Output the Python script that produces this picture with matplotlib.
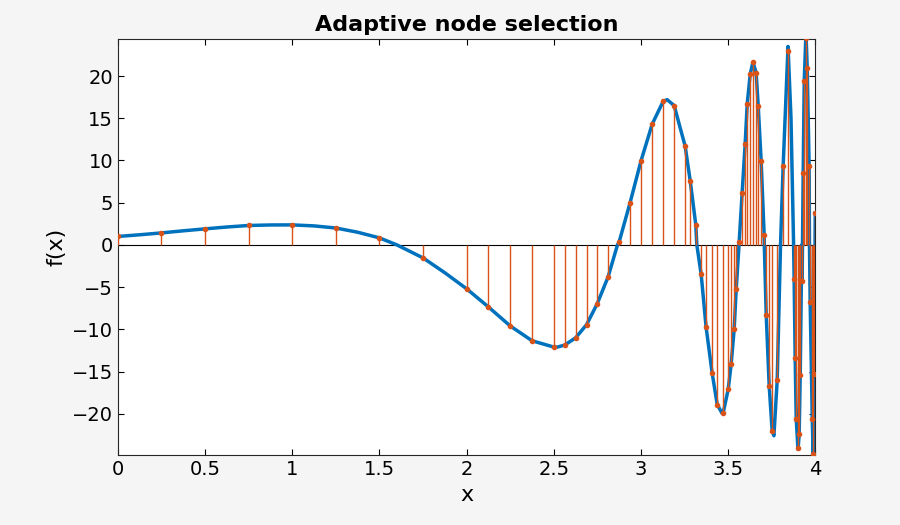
import numpy as np
import matplotlib
matplotlib.use("Agg")
import matplotlib.pyplot as plt

# adaptive nodes (x, f(x))
node_x = [0, 0.25, 0.5, 0.75, 1.0, 1.25, 1.5, 1.75, 2.0, 2.125, 2.25, 2.375, 2.5, 2.5625, 2.625, 2.6875,
          2.748, 2.811, 2.874, 2.937, 3.0, 3.064, 3.127, 3.19, 3.253, 3.282, 3.314, 3.345, 3.373, 3.408,
          3.437, 3.471, 3.5, 3.517, 3.534, 3.546, 3.563, 3.58, 3.597, 3.609, 3.626, 3.643, 3.66, 3.672,
          3.689, 3.706, 3.718, 3.735, 3.752, 3.781, 3.815, 3.844, 3.878, 3.884, 3.89, 3.901, 3.907, 3.913,
          3.924, 3.93, 3.936, 3.947, 3.953, 3.964, 3.970, 3.982, 3.987, 3.993, 3.999]
node_y = [1.0, 1.42, 1.9, 2.3, 2.37, 2.0, 0.83, -1.54, -5.2, -7.35, -9.6, -11.35, -12.1, -11.86, -11.0, -9.45,
          -7.0, -3.8, 0.32, 4.98, 9.96, 14.3, 17.0, 16.5, 11.7, 7.6, 2.4, -3.5, -9.7, -15.2,
          -18.9, -19.9, -17.1, -14.1, -10.0, -5.2, 0.36, 6.2, 11.9, 16.7, 20.2, 21.6, 20.4, 16.5,
          9.9, 1.2, -8.3, -16.7, -22.0, -16.0, 9.3, 23.0, -4.0, -13.4, -20.6, -24.1, -22.4, -15.4,
          -4.3, 8.5, 19.4, 24.5, 21.0, 9.4, -6.8, -20.6, -24.8, -15.3, 3.8]

# extra points (peaks, zeros)
extra_x = [0.125, 0.375, 0.625, 0.875, 1.125, 1.375, 1.6, 1.875, 2.52, 2.865, 3.15, 3.32, 3.465, 3.562,
           3.641, 3.707, 3.762, 3.80, 3.843, 3.86, 3.875, 3.900, 3.922, 3.945, 3.966, 3.988, 3.998]
extra_y = [1.2, 1.67, 2.12, 2.36, 2.25, 1.5, 0.0, -3.3, -12.1, 0.0, 17.2, 0.0, -19.95, 0.0,
           21.6, 0.0, -22.6, 0.0, 23.5, 15.0, 0.0, -24.2, 0.0, 24.6, 0.0, -24.9, 0.0]

cx = np.array(node_x + extra_x)
cy = np.array(node_y + extra_y)
order = np.argsort(cx)
cx, cy = cx[order], cy[order]

fig = plt.figure(figsize=(9, 5.25), dpi=100, facecolor="#f5f5f5")
ax = fig.add_axes([0.131, 0.133, 0.775, 0.793])
ax.plot(cx, cy, color=(0, 0.447, 0.741), lw=2.5, zorder=2)
orange = (0.85, 0.325, 0.098)
ax.vlines(node_x, 0, node_y, color=orange, lw=1, zorder=3)
ax.plot(node_x, node_y, 'o', color=orange, ms=3, zorder=4)
ax.axhline(0, color='black', lw=0.8, zorder=1)
ax.set_xlim(0, 4)
ax.set_ylim(-24.9, 24.4)
ax.set_xticks(np.arange(0, 4.01, 0.5))
ax.set_xticklabels(['0', '0.5', '1', '1.5', '2', '2.5', '3', '3.5', '4'])
ax.set_yticks(np.arange(-20, 21, 5))
ax.tick_params(labelsize=14, direction='in', top=True, right=True, length=4)
ax.set_xlabel('x', fontsize=16)
ax.set_ylabel('f(x)', fontsize=16)
ax.set_title('Adaptive node selection', fontsize=16, fontweight='bold')
for s in ax.spines.values():
    s.set_color('#262626')
fig.savefig('out.png', dpi=100, facecolor=fig.get_facecolor())
